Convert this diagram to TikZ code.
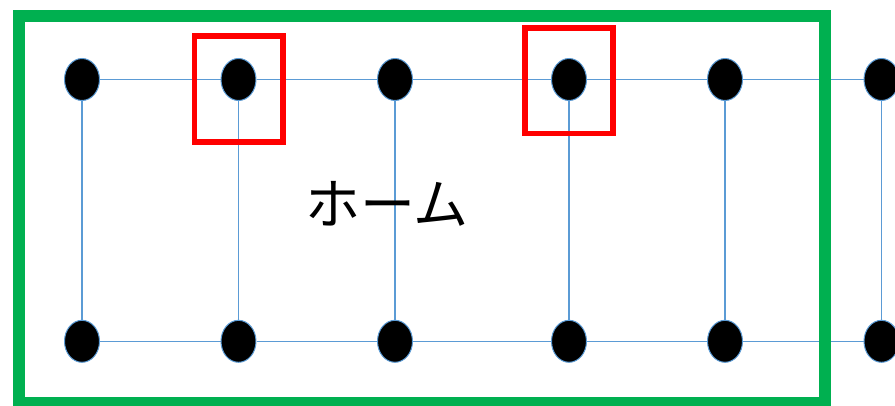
\documentclass[tikz,border=0pt]{standalone}
\usepackage{fontspec}
\newfontfamily\jpfont{Noto Sans CJK JP}
\usetikzlibrary{shapes.geometric}
\definecolor{linkblue}{HTML}{5B9BD5}
\definecolor{homegreen}{HTML}{00B050}
\definecolor{markred}{HTML}{FF0000}
\begin{document}
\begin{tikzpicture}[x=1pt,y=-1pt,
  post/.style={ellipse,draw=linkblue,line width=1pt,fill=black,
    minimum width=35pt,minimum height=42pt,inner sep=0pt},
  link/.style={draw=linkblue,line width=1.1pt},
  homebox/.style={draw=homegreen,line width=11.5pt},
  markbox/.style={draw=markred,line width=5.5pt}]
\useasboundingbox (0,0) rectangle (895,405);
% two rows of posts
\foreach \i/\x in {1/82,2/238.5,3/395,4/569,5/725,6/881.5}{
  \node[post] (t\i) at (\x,79.5) {};
  \node[post] (b\i) at (\x,341.3) {};
}
% rails and uprights
\foreach \i/\j in {1/2,2/3,3/4,4/5,5/6}{
  \draw[link] (t\i) -- (t\j);
  \draw[link] (b\i) -- (b\j);
}
\foreach \i in {1,...,6}{
  \draw[link] (t\i) -- (b\i);
}
% home area
\draw[homebox] (19,16) rectangle (825,403);
\node[font=\jpfont\fontsize{55}{55}\selectfont] (home) at (387,204) {ホーム};
% highlighted posts
\draw[markbox] (194.5,36) rectangle (283,142);
\draw[markbox] (525,28) rectangle (613,133.7);
\end{tikzpicture}
\end{document}
